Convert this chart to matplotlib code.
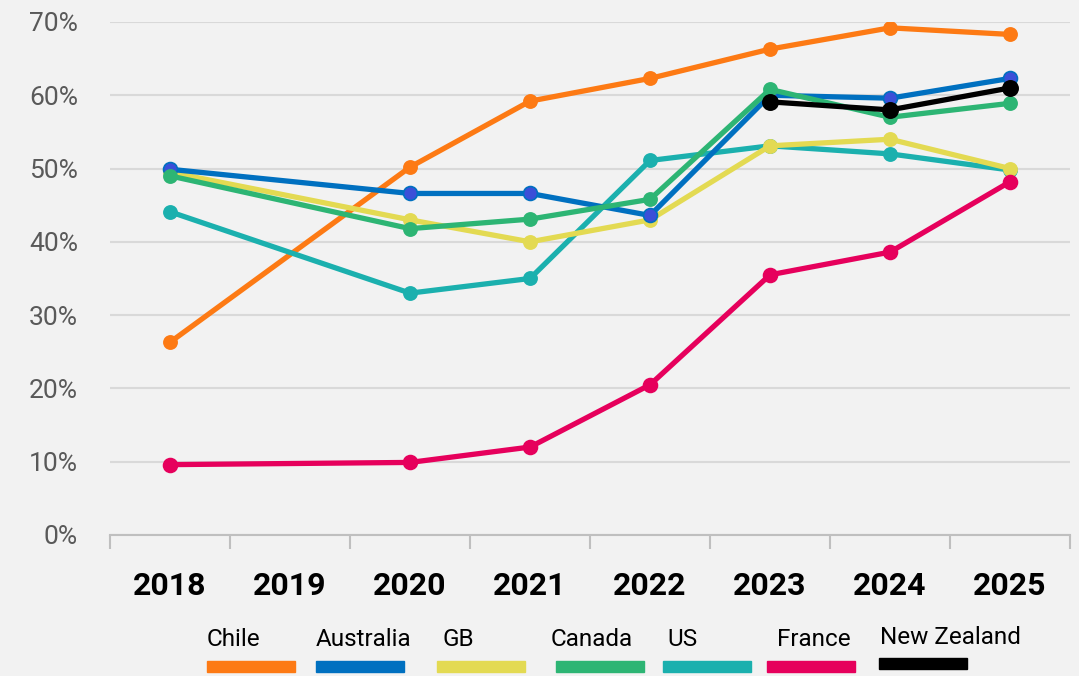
import matplotlib.pyplot as plt
from matplotlib.patches import Rectangle
import numpy as np

plt.rcParams["font.family"] = ["Roboto", "DejaVu Sans"]

# Data (None = no survey that year)
years = ["2018", "2019", "2020", "2021", "2022", "2023", "2024", "2025"]
chile = [26.3, None, 50.2, 59.2, 62.3, 66.3, 69.2, 68.3]
australia = [49.9, None, 46.6, 46.6, 43.6, 60.0, 59.6, 62.3]
gb = [49.5, None, 43.0, 40.0, 43.0, 53.1, 54.0, 50.0]
canada = [49.0, None, 41.8, 43.1, 45.8, 60.8, 57.0, 58.9]
us = [44.1, None, 33.0, 35.0, 51.1, 53.1, 52.0, 49.8]
france = [9.6, None, 9.9, 12.0, 20.5, 35.5, 38.6, 48.2]
new_zealand = [None, None, None, None, None, 59.1, 58.0, 61.0]

BG = "#f2f2f2"

# name, values, line colour, marker colour, marker size
series = [
    ("Chile", chile, "#fd7a14", "#fd7a14", 9.5),
    ("US", us, "#1bb0ae", "#1bb0ae", 9.5),
    ("GB", gb, "#e3da52", "#e3da52", 9.5),
    ("Australia", australia, "#0070c0", "#3b4fd8", 10),
    ("Canada", canada, "#2db574", "#2db574", 9.5),
    ("France", france, "#e6005c", "#e6005c", 10),
    ("New Zealand", new_zealand, "#000000", "#000000", 11),
]

fig = plt.figure(figsize=(10.79, 6.76), dpi=100, facecolor=BG)
ax = fig.add_axes([0.102, 0.2086, 0.8897, 0.7589])
ax.set_facecolor(BG)

for name, vals, lc, mc, ms in series:
    xs = [i for i, v in enumerate(vals) if v is not None]
    ys = [v for v in vals if v is not None]
    ax.plot(xs, ys, color=lc, lw=3.8, marker="o", markersize=ms,
            markerfacecolor=mc, markeredgecolor=lc, markeredgewidth=1.2,
            solid_capstyle="round", zorder=3)

ax.set_xlim(-0.5, len(years) - 0.5)
ax.set_ylim(0, 70)
ax.set_yticks(np.arange(0, 71, 10))
ax.set_yticklabels([f"{v}%" for v in range(0, 71, 10)])
ax.yaxis.grid(True, color="#d9d9d9", lw=1.5)
ax.set_axisbelow(True)
ax.tick_params(axis="y", length=0, pad=23, labelsize=19, labelcolor="#595959")

# category boundaries as ticks, year labels centred
ax.set_xticks(np.arange(-0.5, len(years), 1.0))
ax.set_xticklabels([])
ax.set_xticks(np.arange(len(years)), minor=True)
ax.set_xticklabels(years, minor=True, fontsize=23, fontweight="bold", color="#000000")
ax.tick_params(axis="x", which="major", length=10, width=1.5, color="#bfbfbf")
ax.tick_params(axis="x", which="minor", length=0, pad=26)

for s in ["top", "right", "left"]:
    ax.spines[s].set_visible(False)
ax.spines["bottom"].set_color("#bfbfbf")
ax.spines["bottom"].set_linewidth(1.5)

# legend: label above a coloured bar
legend_order = ["Chile", "Australia", "GB", "Canada", "US", "France", "New Zealand"]
colors = {n: lc for n, _, lc, _, _ in series}
text_x = [207, 316, 443, 551, 667, 777, 880]
bar_x = [207, 316, 437, 556, 663, 767, 879]
W, H = 1079, 676
for name, tx, bx in zip(legend_order, text_x, bar_x):
    nz = name == "New Zealand"
    ty = 640 if not nz else 638
    by = 667 if not nz else 664
    fig.text(tx / W, 1 - ty / H, name, fontsize=17.5, color="#000000",
             ha="left", va="center")
    fig.patches.append(Rectangle((bx / W, 1 - (by + 5) / H), 88 / W, 11 / H,
                                 transform=fig.transFigure, color=colors[name],
                                 figure=fig))

fig.savefig("out.png", dpi=100, facecolor=BG)
